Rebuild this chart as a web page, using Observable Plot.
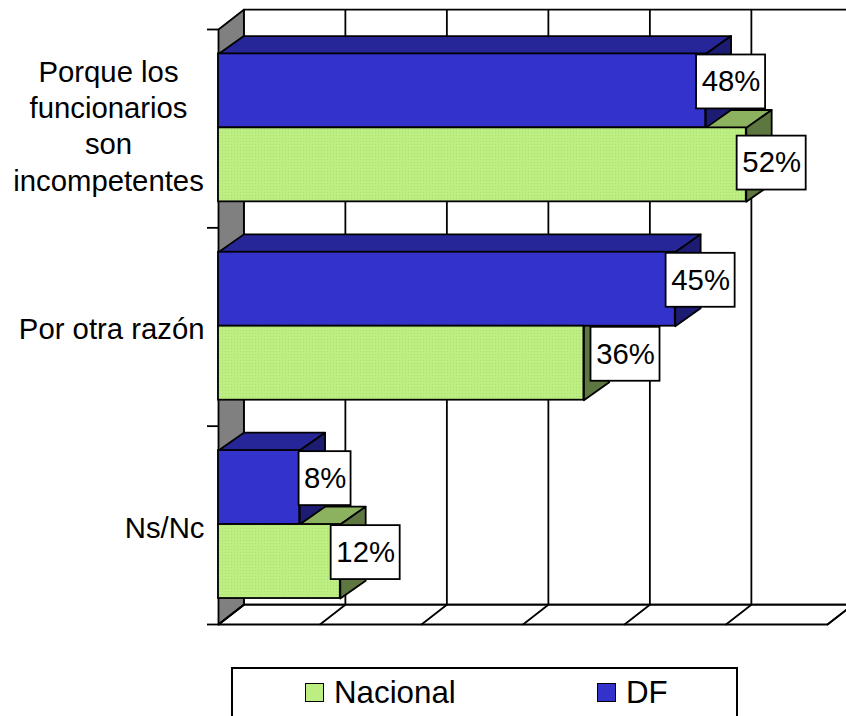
<!DOCTYPE html>
<html>
<head>
<meta charset="utf-8">
<script src="https://cdn.jsdelivr.net/npm/d3@7"></script>
<script src="https://cdn.jsdelivr.net/npm/@observablehq/plot@0.6"></script>
<style>
html,body{margin:0;padding:0;background:#fff;overflow:hidden;width:846px;height:716px}
svg{display:block}
#legend{position:absolute;left:231px;top:667px;width:503px;height:80px;border:2px solid #000;background:#fff;
  font-family:"Liberation Sans",Arial,sans-serif;font-size:31.3px;color:#000}
#legend span{position:absolute;white-space:nowrap;line-height:30px}
#legend i{position:absolute;width:17px;height:17px;border:1.5px solid #000;display:block}
</style>
</head>
<body>
<div id="chart"></div>
<div id="legend"></div>
<script>
const categories = ["Porque los\nfuncionarios\nson\nincompetentes", "Por otra razón", "Ns/Nc"];
const nacional = [52, 36, 12];
const df = [48, 45, 8];
const seriesNames = ["Nacional", "DF"];
const gridValues = [0, 10, 20, 30, 40, 50, 60];

const BLUE = "#3333CC", BLUE_TOP = "#262699", BLUE_SIDE = "#1C1C73";
const GREEN = "#BDEE82", GREEN_TOP = "#8DB25F", GREEN_SIDE = "#5E7740", WALL = "#808080";
const LW = 1.8;

// depth of the 3-D box, in scale units
const DX = 2.5, DY = 0.1, BAR_DY = 0.09;
const rows = categories.map((c, i) => categories.length - 1 - i);
const bar = (values, key, y1, y2) => values.map((v, i) => ({key: key + i, v, y1: rows[i] + y1, y2: rows[i] + y2}));
const greenBars = bar(nacional, "n", 0.131, 0.504);
const blueBars = bar(df, "d", 0.504, 0.877);

const topFace = (d) => [[0, d.y2], [d.v, d.y2], [d.v + DX, d.y2 + BAR_DY], [DX, d.y2 + BAR_DY]].map(([x, y]) => ({id: d.key, x, y}));
const sideFace = (d) => [[d.v, d.y2], [d.v + DX, d.y2 + BAR_DY], [d.v + DX, d.y1 + BAR_DY], [d.v, d.y1]].map(([x, y]) => ({id: d.key, x, y}));
const poly = (pts, fill, extra = {}) => Plot.line(pts, {x: "x", y: "y", z: "id", fill, stroke: "#000", strokeWidth: LW, curve: "linear-closed", ...extra});

const leftWall = [[0, 0], [DX, DY], [DX, 3 + DY], [0, 3]].map(([x, y]) => ({id: "w", x, y}));
const floor = [[0, 0], [60, 0], [60 + DX, DY], [DX, DY]].map(([x, y]) => ({id: "f", x, y}));
const floorDiag = gridValues.flatMap(g => [{id: g, x: g, y: 0}, {id: g, x: g + DX, y: DY}]);

const labels = [...blueBars, ...greenBars].map(d => {
  // two labels were hand-moved in the reference: 52% sits lower, 36% further right
  const nudgeY = d.v === 52 ? 0.036 : 0;
  const nudgeX = d.v === 36 ? 1.6 : 0;
  const cx = d.v + DX + nudgeX;
  const cy = (d.y1 + d.y2) / 2 + BAR_DY / 2 - nudgeY;
  const hw = String(d.v).length === 1 ? 2.56 : 3.4;
  return {v: d.v, x: cx, y: cy, x1: cx - hw, x2: cx + hw, y1: cy - 0.136, y2: cy + 0.136};
});

const defs = () => {
  const s = d3.create("svg:defs");
  const p = s.append("pattern").attr("id", "stip").attr("width", 3).attr("height", 3).attr("patternUnits", "userSpaceOnUse");
  p.append("rect").attr("width", 3).attr("height", 3).attr("fill", GREEN);
  p.append("rect").attr("width", 1).attr("height", 1).attr("fill", "#AEDD74");
  return s.node();
};

const plot = Plot.plot({
  width: 846, height: 668,
  marginLeft: 218, marginRight: 19, marginTop: 29, marginBottom: 44,
  x: {domain: [0, 60], axis: null},
  y: {domain: [0, 3], axis: null},
  style: {fontFamily: '"Liberation Sans", Arial, sans-serif', background: "#fff", color: "#000"},
  marks: [
    defs,
    Plot.ruleX(gridValues, {x: d => d + DX, y1: DY, y2: 3 + DY, stroke: "#000", strokeWidth: LW, strokeOpacity: 1}),
    Plot.ruleY([3 + DY, DY], {x1: DX, x2: 60 + DX, stroke: "#000", strokeWidth: LW}),
    poly(leftWall, WALL),
    Plot.line(floor, {x: "x", y: "y", z: "id", stroke: "#000", strokeWidth: LW, curve: "linear-closed"}),
    Plot.line(floorDiag, {x: "x", y: "y", z: "id", stroke: "#000", strokeWidth: LW}),
    Plot.axisY({anchor: "left", ticks: [0, 1, 2, 3], tickSize: 11, tickFormat: () => "", strokeWidth: LW, stroke: "#000", label: null}),
    poly(greenBars.flatMap(topFace), GREEN_TOP),
    poly(greenBars.flatMap(sideFace), GREEN_SIDE),
    poly(blueBars.flatMap(topFace), BLUE_TOP),
    poly(blueBars.flatMap(sideFace), BLUE_SIDE),
    Plot.rect(blueBars, {x1: 0, x2: "v", y1: "y1", y2: "y2", fill: BLUE, stroke: "#000", strokeWidth: LW}),
    Plot.rect(greenBars, {x1: 0, x2: "v", y1: "y1", y2: "y2", fill: "url(#stip)", stroke: "#000", strokeWidth: LW}),
    Plot.rect(labels, {x1: "x1", x2: "x2", y1: "y1", y2: "y2", fill: "#fff", stroke: "#000", strokeWidth: LW}),
    Plot.text(labels, {x: "x", y: "y", text: d => d.v + "%", fontSize: 29.3, fill: "#000"}),
    Plot.text([categories[0]], {x: 0, y: rows[0] + 0.5, text: d => d, dx: -110, dy: -4, textAnchor: "middle", lineHeight: 1.24, fontSize: 29.3, fill: "#000"}),
    Plot.text(categories.slice(1), {x: 0, y: (d, i) => rows[i + 1] + 0.5, text: d => d, dx: -14, textAnchor: "end", dy: 3, fontSize: 29.3, fill: "#000"})
  ]
});
document.getElementById("chart").append(plot);

const legend = document.getElementById("legend");
const legendPos = [{box: 72, text: 101, color: GREEN}, {box: 364, text: 393, color: BLUE}];
seriesNames.forEach((name, i) => {
  const sw = document.createElement("i");
  sw.style.cssText = `left:${legendPos[i].box}px;top:14px;background:${legendPos[i].color}`;
  const t = document.createElement("span");
  t.textContent = name;
  t.style.cssText = `left:${legendPos[i].text}px;top:9px`;
  legend.append(sw, t);
});
</script>
</body>
</html>
